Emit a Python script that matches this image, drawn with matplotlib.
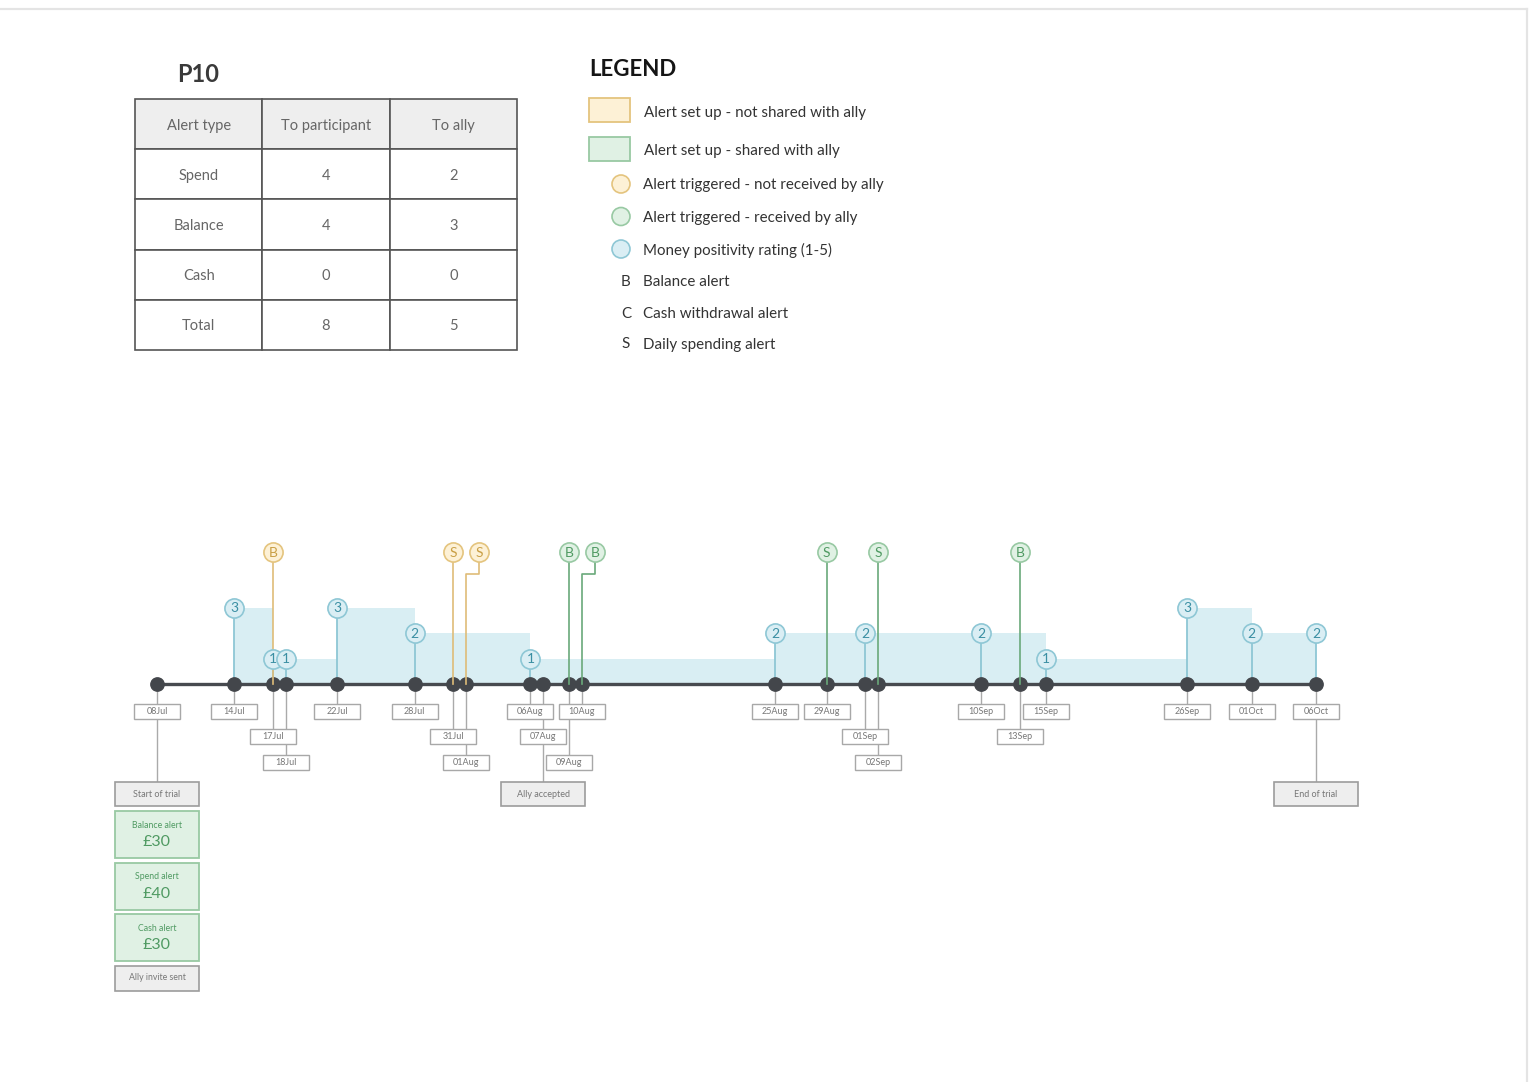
import matplotlib
matplotlib.use("Agg")
import matplotlib.pyplot as plt
import matplotlib.dates as mdates
from matplotlib.patches import Rectangle, Circle
from datetime import datetime

plt.rcParams['font.family'] = ['Lato', 'DejaVu Sans']

# ---------------- data ----------------
YEAR = 2019
participant = "P10"
table_columns = ["Alert type", "To participant", "To ally"]
alert_types = ["Spend", "Balance", "Cash", "Total"]
to_participant = [4, 4, 0, 8]
to_ally = [2, 3, 0, 5]

legend_box_labels = ["Alert set up - not shared with ally", "Alert set up - shared with ally"]
legend_circle_labels = ["Alert triggered - not received by ally", "Alert triggered - received by ally",
                        "Money positivity rating (1-5)"]
legend_letters = ["B", "C", "S"]
legend_letter_labels = ["Balance alert", "Cash withdrawal alert", "Daily spending alert"]

event_dates = ["08Jul", "14Jul", "17Jul", "18Jul", "22Jul", "28Jul", "31Jul", "01Aug", "06Aug", "07Aug",
               "09Aug", "10Aug", "25Aug", "29Aug", "01Sep", "02Sep", "10Sep", "13Sep", "15Sep", "26Sep",
               "01Oct", "06Oct"]
label_rows = [0, 0, 1, 2, 0, 0, 1, 2, 0, 1, 2, 0, 0, 0, 1, 2, 0, 1, 0, 0, 0, 0]

rating_dates = ["14Jul", "17Jul", "18Jul", "22Jul", "28Jul", "06Aug", "25Aug", "01Sep", "10Sep", "15Sep",
                "26Sep", "01Oct", "06Oct"]
rating_values = [3, 1, 1, 3, 2, 1, 2, 2, 2, 1, 3, 2, 2]

alert_dates = ["17Jul", "31Jul", "01Aug", "09Aug", "10Aug", "29Aug", "02Sep", "13Sep"]
alert_letters = ["B", "S", "S", "B", "B", "S", "S", "B"]
alert_shared = [False, False, False, True, True, True, True, True]

milestone_dates = ["08Jul", "07Aug", "06Oct"]
milestone_labels = ["Start of trial", "Ally accepted", "End of trial"]

setup_names = ["Balance alert", "Spend alert", "Cash alert"]
setup_amounts = ["£30", "£40", "£30"]
setup_note = "Ally invite sent"

# ---------------- layout / style ----------------
W, H = 1530, 1082
fig = plt.figure(figsize=(W / 100, H / 100), dpi=100)
fig.patch.set_facecolor("white")

def d(s):
    return mdates.date2num(datetime.strptime(s + str(YEAR), "%d%b%Y"))

# overlay axes in pixel coordinates for header / legend / frame
ov = fig.add_axes([0, 0, 1, 1])
ov.set_xlim(0, W)
ov.set_ylim(H, 0)
ov.axis("off")

ov.plot([0, 1527], [9, 9], color="#e4e4e4", lw=1.6)
ov.plot([1527, 1527], [9, H], color="#e4e4e4", lw=1.6)

ov.text(198, 75, participant, fontsize=17, fontweight="bold", color="#3a3a3a", ha="center", va="center")
ov.text(589, 69, "LEGEND", fontsize=16, fontweight="bold", color="#151515", ha="left", va="center")

ORANGE_F, ORANGE_E, ORANGE_T = "#fdf1d6", "#e4c47e", "#c99f45"
GREEN_F, GREEN_E, GREEN_T = "#e0f1e4", "#98c9a3", "#4f9a62"
BLUE_F, BLUE_E, BLUE_T = "#daeef4", "#8ec7d5", "#3b8fa3"
TXT = "#333333"
FS = 10.9

box_faces = [ORANGE_F, GREEN_F]
box_edges = [ORANGE_E, GREEN_E]
for i, lab in enumerate(legend_box_labels):
    yc = 110 + 38.5 * i
    ov.add_patch(Rectangle((589, yc - 12), 41, 24, facecolor=box_faces[i], edgecolor=box_edges[i], lw=1.3))
    ov.text(644, yc + 2.5, lab, fontsize=FS, color=TXT, ha="left", va="center")

circ_faces = [ORANGE_F, GREEN_F, BLUE_F]
circ_edges = [ORANGE_E, GREEN_E, BLUE_E]
for i, lab in enumerate(legend_circle_labels):
    yc = 184 + 32.5 * i
    ov.add_patch(Circle((621, yc), 9, facecolor=circ_faces[i], edgecolor=circ_edges[i], lw=1.2))
    ov.text(643, yc + 1.5, lab, fontsize=FS, color=TXT, ha="left", va="center")

for i, (let, lab) in enumerate(zip(legend_letters, legend_letter_labels)):
    yc = 281 + 31 * i
    ov.text(626, yc + 1.5, let, fontsize=FS, color=TXT, ha="center", va="center")
    ov.text(643, yc + 1.5, lab, fontsize=FS, color=TXT, ha="left", va="center")

# ---------------- table ----------------
tax = fig.add_axes([135 / W, 1 - 350 / H, (517 - 135) / W, (350 - 99) / H])
tax.axis("off")
cell_text = [[t, str(p), str(a)] for t, p, a in zip(alert_types, to_participant, to_ally)]
tbl = tax.table(cellText=cell_text, colLabels=table_columns, cellLoc="center", bbox=[0, 0, 1, 1])
tbl.auto_set_font_size(False)
for (r, c), cell in tbl.get_celld().items():
    cell.set_edgecolor("#555555")
    cell.set_linewidth(1.2)
    cell.set_facecolor("#eeeeee" if r == 0 else "white")
    cell.get_text().set_color("#666666")
    cell.get_text().set_fontsize(10.5)
    cell.get_text().set_verticalalignment("center_baseline")

# ---------------- timeline ----------------
X0PX, X1PX = 157, 1316
PXD = (X1PX - X0PX) / (d("06Oct") - d("08Jul"))     # pixels per day
U = 25.5                                             # pixels per rating unit
BASE = 684
AX_L, AX_R, AX_T, AX_B = 95, 1420, 531, 1010

ax = fig.add_axes([AX_L / W, 1 - AX_B / H, (AX_R - AX_L) / W, (AX_B - AX_T) / H])
ax.set_xlim(d("08Jul") - (X0PX - AX_L) / PXD, d("06Oct") + (AX_R - X1PX) / PXD)
ax.set_ylim(-(AX_B - BASE) / U, (BASE - AX_T) / U)
ax.axis("off")

def py(p):
    return (BASE - p) / U

def pw(p):
    return p / PXD

# step fill of ratings
rx = [d(s) for s in rating_dates]
ax.fill_between(rx, rating_values, 0, step="post", color="#d9eef3", lw=0, zorder=1)

# base line
ax.plot([d(event_dates[0]), d(event_dates[-1])], [0, 0], color="#474a4f", lw=2.4, zorder=3,
        solid_capstyle="butt")

# connectors + date labels
GRAY_LINE = "#aaaaaa"
LBL_W, LBL_H = 46, 15
for s, r in zip(event_dates, label_rows):
    x = d(s)
    yc = py(711) - r
    ax.plot([x, x], [0, yc], color=GRAY_LINE, lw=1.0, zorder=2)
    ax.add_patch(Rectangle((x - pw(LBL_W) / 2, yc - (LBL_H / U) / 2), pw(LBL_W), LBL_H / U,
                           facecolor="white", edgecolor="#a8a8a8", lw=1.0, zorder=4))
    ax.text(x, yc, s, fontsize=6.5, color="#777777", ha="center", va="center", zorder=5)

# dots
ax.plot([d(s) for s in event_dates], [0] * len(event_dates), "o", color="#43464b", ms=9.6, zorder=6,
        mec="#43464b")

# rating stems + circles
for s, v in zip(rating_dates, rating_values):
    x = d(s)
    ax.plot([x, x], [0, v], color=BLUE_E, lw=1.3, zorder=2.5)
for s, v in zip(rating_dates, rating_values):
    x = d(s)
    ax.plot([x], [v], "o", ms=13.8, mfc=BLUE_F, mec=BLUE_E, mew=1.2, zorder=7)
    ax.text(x, v - 0.02, str(v), fontsize=10, color=BLUE_T, ha="center", va="center", zorder=8)

# alerts
ALERT_Y = py(552)
ELBOW_Y = py(574)
alert_shift = {"01Aug": 1, "10Aug": 1}     # display offset in days to avoid overlap
for s, let, sh in zip(alert_dates, alert_letters, alert_shared):
    x = d(s)
    xc = x + alert_shift.get(s, 0)
    fc, ec, tc = (GREEN_F, GREEN_E, GREEN_T) if sh else (ORANGE_F, ORANGE_E, ORANGE_T)
    lc = "#6aa97a" if sh else "#dfbc78"
    if xc != x:
        ax.plot([x, x, xc, xc], [0, ELBOW_Y, ELBOW_Y, ALERT_Y], color=lc, lw=1.2, zorder=6.5)
    else:
        ax.plot([x, x], [0, ALERT_Y], color=lc, lw=1.2, zorder=6.5)
    ax.plot([xc], [ALERT_Y], "o", ms=13.8, mfc=fc, mec=ec, mew=1.2, zorder=7)
    ax.text(xc, ALERT_Y - 0.02, let, fontsize=10, color=tc, ha="center", va="center", zorder=8)

# milestones
MS_W, MS_H = 84, 24
ms_y = py(794)
for s, lab in zip(milestone_dates, milestone_labels):
    x = d(s)
    r = label_rows[event_dates.index(s)]
    ax.plot([x, x], [py(711) - r, ms_y], color=GRAY_LINE, lw=1.0, zorder=2)
    ax.add_patch(Rectangle((x - pw(MS_W) / 2, ms_y - (MS_H / U) / 2), pw(MS_W), MS_H / U,
                           facecolor="#eeeeee", edgecolor="#9c9c9c", lw=1.2, zorder=4))
    ax.text(x, ms_y, lab, fontsize=6.5, color="#777777", ha="center", va="center", zorder=5)

# alert set-up stack under start of trial
x0 = d(milestone_dates[0])
top = 811
for name, amt in zip(setup_names, setup_amounts):
    h = 47
    ax.add_patch(Rectangle((x0 - pw(MS_W) / 2, py(top + h)), pw(MS_W), h / U,
                           facecolor=GREEN_F, edgecolor=GREEN_E, lw=1.3, zorder=4))
    ax.text(x0, py(top + 14), name, fontsize=6.3, color=GREEN_T, ha="center", va="center", zorder=5)
    ax.text(x0, py(top + 31), amt, fontsize=11.5, color=GREEN_T, ha="center", va="center", zorder=5)
    top += h + 4.5
h = 25
ax.add_patch(Rectangle((x0 - pw(MS_W) / 2, py(top + h)), pw(MS_W), h / U,
                       facecolor="#eeeeee", edgecolor="#9c9c9c", lw=1.2, zorder=4))
ax.text(x0, py(top + h / 2), setup_note, fontsize=6.3, color="#777777", ha="center", va="center", zorder=5)

fig.savefig("out.png", dpi=100, facecolor="white")
